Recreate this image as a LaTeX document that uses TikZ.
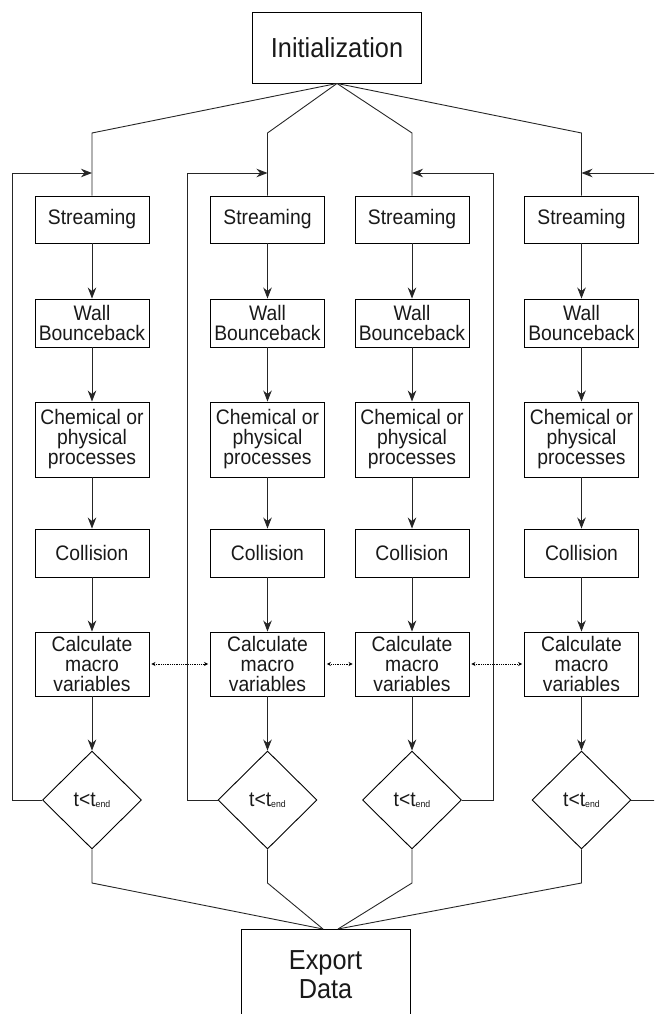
\documentclass[tikz,border=0pt]{standalone}
\usepackage{fontspec}
\setmainfont{Liberation Sans}[FakeStretch=0.92]
\usetikzlibrary{arrows.meta,shapes.geometric}
\begin{document}
\begin{tikzpicture}[x=1pt,y=-1pt,
  every node/.style={font=\fontsize{21}{20}\selectfont, text=black!90},
  stepbox/.style={draw, line width=0.9pt, minimum width=114, inner sep=0pt, align=center},
  bigbox/.style={draw, line width=0.9pt, minimum width=169, inner sep=0pt, align=center, font=\fontsize{27.5}{29}\selectfont},
  testbox/.style={draw, line width=0.9pt, shape=diamond, minimum width=99, minimum height=98, inner sep=0pt},
  conn/.style={line width=0.9pt, draw=black!85},
  flow/.style={conn, -{Stealth[length=11pt,width=8.5pt,inset=3.5pt]}},
  sync/.style={line width=0.8pt, densely dotted, {Stealth[length=4pt,width=4pt]}-{Stealth[length=4pt,width=4pt]}, shorten <=2pt, shorten >=2pt}
]
\useasboundingbox (0,0) rectangle (654,1014);
\clip (0,0) rectangle (654,1014);

\node[bigbox, minimum height=71] (init) at (337,47.5) {Initialization};
\node[bigbox, minimum height=92] (exp) at (325.5,975) {Export\\Data};

\foreach \i/\x in {1/92,2/267.5,3/412,4/581.5}{
  \node[stepbox, minimum height=47] (s\i) at (\x,219.5) {Streaming};
  \node[stepbox, minimum height=48] (w\i) at (\x,323) {Wall\\Bounceback};
  \node[stepbox, minimum height=75] (ch\i) at (\x,439.5) {Chemical or\\physical\\processes};
  \node[stepbox, minimum height=48] (co\i) at (\x,553) {Collision};
  \node[stepbox, minimum height=64] (ca\i) at (\x,664) {Calculate\\macro\\variables};
  \node[testbox] (d\i) at (\x,800) {t<t\raisebox{-1pt}{\fontsize{9.5}{9.5}\selectfont end}};
  \coordinate (k\i) at (\x,133);
  \coordinate (j\i) at (\x,173);
  \coordinate (b\i) at (\x,883);
  \draw[flow] (s\i) -- (w\i);
  \draw[flow] (w\i) -- (ch\i);
  \draw[flow] (ch\i) -- (co\i);
  \draw[flow] (co\i) -- (ca\i);
  \draw[flow] (ca\i) -- (d\i);
  \draw[conn] (init.south) -- (k\i) -- (s\i.north);
}

% sync arrows
\draw[sync] (ca1.east) -- (ca2.west);
\draw[sync] (ca2.east) -- (ca3.west);
\draw[sync] (ca3.east) -- (ca4.west);

% loops
\coordinate (l1) at (12.5,173);
\coordinate (l2) at (187.5,173);
\coordinate (l3) at (493,173);
\coordinate (l4) at (664,173);
\draw[conn] (d1.west) -| (l1);
\draw[flow] (l1) -- (j1);
\draw[conn] (d2.west) -| (l2);
\draw[flow] (l2) -- (j2);
\draw[conn] (d3.east) -| (l3);
\draw[flow] (l3) -- (j3);
\draw[conn] (d4.east) -| (l4);
\draw[flow] (l4) -- (j4);

% merge to export
\coordinate (e1) at (323,929);
\coordinate (e2) at (338,929);
\draw[conn] (d1.south) -- (b1) -- (e1);
\draw[conn] (d2.south) -- (b2) -- (e1);
\draw[conn] (d3.south) -- (b3) -- (e2);
\draw[conn] (d4.south) -- (b4) -- (e2);
\end{tikzpicture}
\end{document}
